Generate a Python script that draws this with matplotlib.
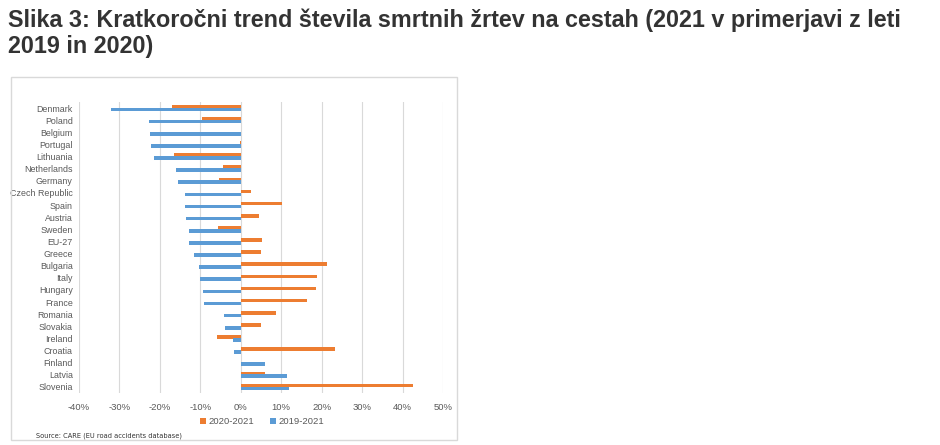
import matplotlib
matplotlib.use('Agg')
import matplotlib.pyplot as plt
import numpy as np
from matplotlib.patches import Rectangle
from matplotlib.ticker import FuncFormatter

countries = ['Denmark', 'Poland', 'Belgium', 'Portugal', 'Lithuania', 'Netherlands',
             'Germany', 'Czech Republic', 'Spain', 'Austria', 'Sweden', 'EU-27',
             'Greece', 'Bulgaria', 'Italy', 'Hungary', 'France', 'Romania',
             'Slovakia', 'Ireland', 'Croatia', 'Finland', 'Latvia', 'Slovenia']
# percent change 2020-2021
chg_2020_2021 = [-17.1, -9.6, 0.0, -0.3, -16.4, -4.3, -5.4, 2.6, 10.2, 4.5, -5.7, 5.2,
                 5.1, 21.4, 18.8, 18.5, 16.3, 8.6, 5.0, -6.0, 23.4, 0.0, 5.9, 42.7]
# percent change 2019-2021
chg_2019_2021 = [-32.0, -22.7, -22.4, -22.1, -21.4, -15.9, -15.5, -13.9, -13.9, -13.5,
                 -12.9, -12.8, -11.5, -10.4, -10.2, -9.4, -9.0, -4.1, -4.0, -2.0,
                 -1.6, 5.9, 11.5, 12.0]

orange = '#ED7D31'
blue = '#5B9BD5'
grey_txt = '#595959'

fig = plt.figure(figsize=(9.4, 4.45), dpi=100)
fig.patches.append(Rectangle((11 / 940, 1 - 440 / 445), 446 / 940, 363 / 445,
                             transform=fig.transFigure, fill=False,
                             edgecolor='#d9d9d9', linewidth=1))

title_kw = dict(fontsize=16.8, fontweight='bold', color='#333333',
                family='Liberation Sans', va='baseline')
fig.text(8 / 940, 1 - 26.5 / 445,
         'Slika 3: Kratkoročni trend števila smrtnih žrtev na cestah (2021 v primerjavi z leti', **title_kw)
fig.text(8 / 940, 1 - 52.5 / 445, '2019 in 2020)', **title_kw)

ax = fig.add_axes([79 / 940, 1 - 393 / 445, 364 / 940, 291 / 445])
y = np.arange(len(countries))
ax.barh(y - 0.12, chg_2020_2021, height=0.3, color=orange, label='2020-2021', zorder=2)
ax.barh(y + 0.12, chg_2019_2021, height=0.3, color=blue, label='2019-2021', zorder=3)

ax.set_xlim(-40, 50)
ax.set_ylim(len(countries) - 0.5, -0.5)
ax.set_xticks(np.arange(-40, 51, 10))
ax.xaxis.set_major_formatter(FuncFormatter(lambda v, p: f'{v:.0f}%'))
ax.set_yticks(y)
ax.set_yticklabels(countries)
ax.tick_params(axis='x', length=0, labelsize=6.8, colors=grey_txt, pad=7)
ax.tick_params(axis='y', length=0, labelsize=6.4, colors=grey_txt, pad=4.5)
for lbl in ax.get_xticklabels() + ax.get_yticklabels():
    lbl.set_family('Liberation Sans')
ax.grid(axis='x', color='#d9d9d9', linewidth=0.8, zorder=0)
ax.set_axisbelow(True)
for s in ax.spines.values():
    s.set_visible(False)

leg = fig.legend(loc='center', bbox_to_anchor=(262 / 940, 1 - 422 / 445), ncol=2,
                 frameon=False, prop={'family': 'Liberation Sans', 'size': 6.8},
                 handlelength=0.6, handleheight=0.6,
                 handletextpad=0.3, columnspacing=1.7)
for t in leg.get_texts():
    t.set_color(grey_txt)

fig.text(36 / 940, 1 - 436 / 445, 'Source: CARE (EU road accidents database)',
         fontsize=4.8, color='#333333', va='center')

fig.savefig('out.png', dpi=100, facecolor='white')
